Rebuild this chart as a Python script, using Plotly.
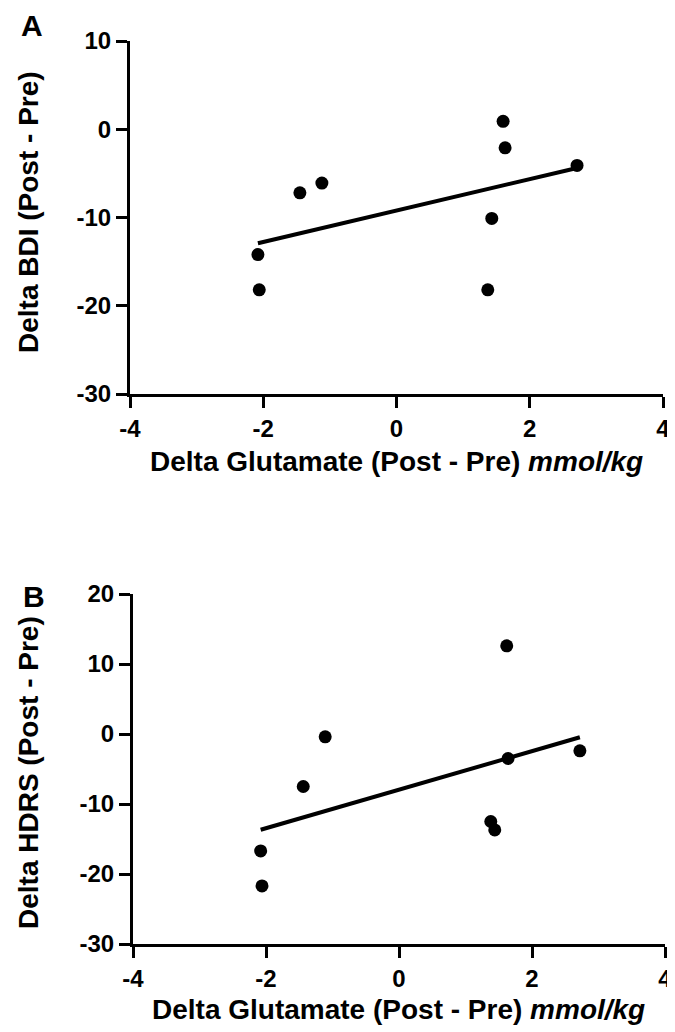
import numpy as np
import plotly.graph_objects as go

# Panel A data: Delta Glutamate vs Delta BDI
glu_a = [1.60, 1.63, 2.71, -1.12, -1.45, -2.08, -2.06, 1.43, 1.37]
bdi_a = [0.9, -2.1, -4.1, -6.1, -7.2, -14.2, -18.2, -10.1, -18.2]

# Panel B data: Delta Glutamate vs Delta HDRS
glu_b = [1.62, -1.11, -1.44, -2.08, -2.06, 1.64, 2.72, 1.38, 1.44]
hdrs_b = [12.6, -0.4, -7.5, -16.7, -21.7, -3.5, -2.4, -12.5, -13.7]

x_ticks = [-4, -2, 0, 2, 4]
x_ticktext = ["-4", "-2", "0", "2", "4"]
ya_ticks = [-30, -20, -10, 0, 10]
ya_ticktext = ["-30", "-20", "-10", "0", "10"]
yb_ticks = [-30, -20, -10, 0, 10, 20]
yb_ticktext = ["-30", "-20", "-10", "0", "10", "20"]

# page is 675x1032; the HTML body has an 8px margin
OFF = 8
W, H = 675 - OFF, 1032 - OFF
FONT = "Liberation Sans"


def fit_line(x, y):
    m, b = np.polyfit(x, y, 1)
    xs = np.array([min(x), max(x)])
    return xs, m * xs + b


fig = go.Figure()

xa_line, ya_line = fit_line(glu_a, bdi_a)
xb_line, yb_line = fit_line(glu_b, hdrs_b)

fig.add_trace(go.Scatter(x=xa_line, y=ya_line, mode="lines",
                         line=dict(color="black", width=4), xaxis="x", yaxis="y",
                         showlegend=False, hoverinfo="skip"))
fig.add_trace(go.Scatter(x=glu_a, y=bdi_a, mode="markers",
                         marker=dict(color="black", size=13), xaxis="x", yaxis="y",
                         showlegend=False))
fig.add_trace(go.Scatter(x=xb_line, y=yb_line, mode="lines",
                         line=dict(color="black", width=4), xaxis="x2", yaxis="y2",
                         showlegend=False, hoverinfo="skip"))
fig.add_trace(go.Scatter(x=glu_b, y=hdrs_b, mode="markers",
                         marker=dict(color="black", size=13), xaxis="x2", yaxis="y2",
                         showlegend=False))

tickfont = dict(family=FONT, size=24, color="black", weight="bold")
common = dict(showgrid=False, zeroline=False, showline=True, linecolor="black",
              linewidth=3, ticks="outside", ticklen=11, tickwidth=3,
              tickcolor="black", tickfont=tickfont, fixedrange=True,
              automargin=False)


def px_x(p):
    return (p - OFF) / W


def px_y(p):
    return 1 - (p - OFF) / H


fig.update_layout(
    width=W, height=H, autosize=False,
    margin=dict(l=0, r=0, t=0, b=0, pad=0, autoexpand=False),
    showlegend=False,
    paper_bgcolor="white", plot_bgcolor="white",
    xaxis=dict(domain=[px_x(130), px_x(663)], range=[-4, 4], anchor="y",
               tickvals=x_ticks, ticktext=x_ticktext, **common),
    yaxis=dict(domain=[px_y(394), px_y(41)], range=[-30, 10], anchor="x",
               tickvals=ya_ticks, ticktext=ya_ticktext, **common),
    xaxis2=dict(domain=[px_x(133), px_x(665)], range=[-4, 4], anchor="y2",
                tickvals=x_ticks, ticktext=x_ticktext, **common),
    yaxis2=dict(domain=[px_y(944), px_y(594)], range=[-30, 20], anchor="x2",
                tickvals=yb_ticks, ticktext=yb_ticktext, **common),
)

titlefont = dict(family=FONT, size=28, color="black")
ann = [
    dict(text="<b>Delta Glutamate (Post - Pre) <i>mmol/kg</i></b>",
         x=px_x(396), y=px_y(461), xref="paper", yref="paper",
         showarrow=False, font=titlefont, xanchor="center", yanchor="middle"),
    dict(text="<b>Delta BDI (Post - Pre)</b>",
         x=px_x(28), y=px_y(212), xref="paper", yref="paper", textangle=-90,
         showarrow=False, font=titlefont, xanchor="center", yanchor="middle"),
    dict(text="<b>Delta Glutamate (Post - Pre) <i>mmol/kg</i></b>",
         x=px_x(398), y=px_y(1009), xref="paper", yref="paper",
         showarrow=False, font=titlefont, xanchor="center", yanchor="middle"),
    dict(text="<b>Delta HDRS (Post - Pre)</b>",
         x=px_x(28), y=px_y(773), xref="paper", yref="paper", textangle=-90,
         showarrow=False, font=titlefont, xanchor="center", yanchor="middle"),
    dict(text="<b>A</b>", x=px_x(32), y=1, xref="paper", yref="paper",
         showarrow=False, font=dict(family=FONT, size=30, color="black"),
         xanchor="center", yanchor="top", borderpad=0),
    dict(text="<b>B</b>", x=px_x(34), y=px_y(596), xref="paper", yref="paper",
         showarrow=False, font=dict(family=FONT, size=30, color="black"),
         xanchor="center", yanchor="middle"),
]
fig.update_layout(annotations=ann)

fig.write_html("out.html")
